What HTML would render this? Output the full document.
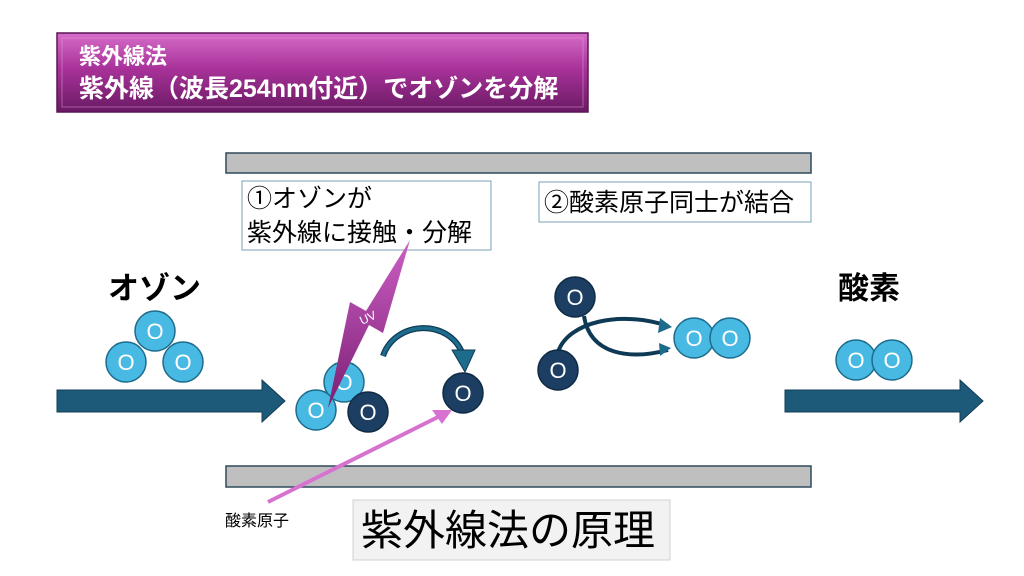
<!DOCTYPE html>
<html><head><meta charset="utf-8"><style>
body{margin:0;width:1024px;height:576px;background:#fff;overflow:hidden}
svg{display:block}
text{font-family:"Liberation Sans","Noto Sans CJK JP",sans-serif}
</style></head><body>
<svg width="1024" height="576" viewBox="0 0 1024 576">
<defs>
<linearGradient id="pg" x1="0" y1="0" x2="0" y2="1">
<stop offset="0" stop-color="#d66cc8"/><stop offset="0.45" stop-color="#a8329a"/><stop offset="1" stop-color="#6a1a63"/>
</linearGradient>
<linearGradient id="uv" x1="0" y1="0" x2="0" y2="1">
<stop offset="0" stop-color="#cc5fc4"/><stop offset="1" stop-color="#7a1f74"/>
</linearGradient>
<g id="lo"><circle r="20" fill="#48b9e3" stroke="#1d6c8c" stroke-width="1.5"/><text y="8" text-anchor="middle" font-size="22" fill="#fff">O</text></g>
<g id="do"><circle r="20" fill="#1b3e62" stroke="#0f2a45" stroke-width="1.5"/><text y="8" text-anchor="middle" font-size="22" fill="#fff">O</text></g>
</defs>
<rect x="57" y="33" width="531" height="79" fill="url(#pg)" stroke="#5a1656" stroke-width="1.5"/>
<rect x="62" y="38" width="521" height="69" fill="none" stroke="#e49ad8" stroke-width="1" opacity="0.5"/>
<text x="79" y="64" font-size="22" font-weight="bold" fill="#fff">紫外線法</text>
<text x="79" y="97" font-size="25" font-weight="bold" fill="#fff">紫外線（波長254nm付近）でオゾンを分解</text>

<rect x="226" y="153" width="585" height="20" fill="#bfbfbf" stroke="#2e4a5a" stroke-width="1.5"/>
<rect x="226" y="466" width="585" height="21" fill="#bfbfbf" stroke="#2e4a5a" stroke-width="1.5"/>

<rect x="242" y="181" width="249" height="69" fill="#fff" stroke="#7aa0b8" stroke-width="1"/>
<text x="247" y="207" font-size="25" fill="#000">①オゾンが</text>
<text x="247" y="241" font-size="25" fill="#000">紫外線に接触・分解</text>
<rect x="539" y="182" width="272" height="40" fill="#fff" stroke="#7aa0b8" stroke-width="1"/>
<text x="544" y="211" font-size="25" fill="#000">②酸素原子同士が結合</text>

<text x="108" y="299" font-size="31" font-weight="bold" fill="#000">オゾン</text>
<text x="838" y="299" font-size="31" font-weight="bold" fill="#000">酸素</text>

<polygon points="57,390 262,390 262,380 285,401 262,422 262,412 57,412" fill="#1d5a7a" stroke="#123d55" stroke-width="1"/>
<polygon points="785,390 960,390 960,380 983,401 960,422 960,412 785,412" fill="#1d5a7a" stroke="#123d55" stroke-width="1"/>

<use href="#lo" x="155" y="331"/>
<use href="#lo" x="126" y="362"/>
<use href="#lo" x="183" y="362"/>

<use href="#lo" x="344" y="382"/>
<use href="#do" x="368" y="412"/>
<use href="#lo" x="316" y="410"/>

<polygon points="410,240 383,333 369,325 328,408 350,302 366,311" fill="url(#uv)"/>
<text x="362" y="325" font-size="12" fill="#fff" transform="rotate(-25 362 325)">UV</text>

<path d="M383,356 C395,320 450,318 463,355" fill="none" stroke="#0f3a55" stroke-width="6"/>
<path d="M383,356 C395,320 450,318 463,355" fill="none" stroke="#1d6c8c" stroke-width="3.5"/>
<polygon points="452,350 475,350 465,372" fill="#1d6c8c" stroke="#0f3a55" stroke-width="1"/>

<use href="#do" x="463" y="393"/>

<line x1="268" y1="502" x2="440" y2="416" stroke="#d872d0" stroke-width="4"/>
<polygon points="452,410 432,410 442,424" fill="#d872d0"/>
<text x="225" y="526" font-size="16" fill="#000">酸素原子</text>

<path d="M558,352 C568,322 620,310 668,326" fill="none" stroke="#0f3a55" stroke-width="4"/>
<path d="M584,316 C590,355 630,360 668,350" fill="none" stroke="#0f3a55" stroke-width="4"/>
<polygon points="660,318 672,327 658,333" fill="#1d6c8c"/>
<polygon points="659,343 671,348 660,356" fill="#1d6c8c"/>
<use href="#do" x="575" y="297"/>
<use href="#do" x="558" y="370"/>
<use href="#lo" x="694" y="338"/>
<use href="#lo" x="730" y="338"/>

<use href="#lo" x="856" y="360"/>
<use href="#lo" x="892" y="360"/>

<rect x="353" y="500" width="317" height="60" fill="#f2f2f2" stroke="#d0d0d0" stroke-width="1"/>
<text x="361" y="545" font-size="42" fill="#000">紫外線法の原理</text>
</svg>
</body></html>
